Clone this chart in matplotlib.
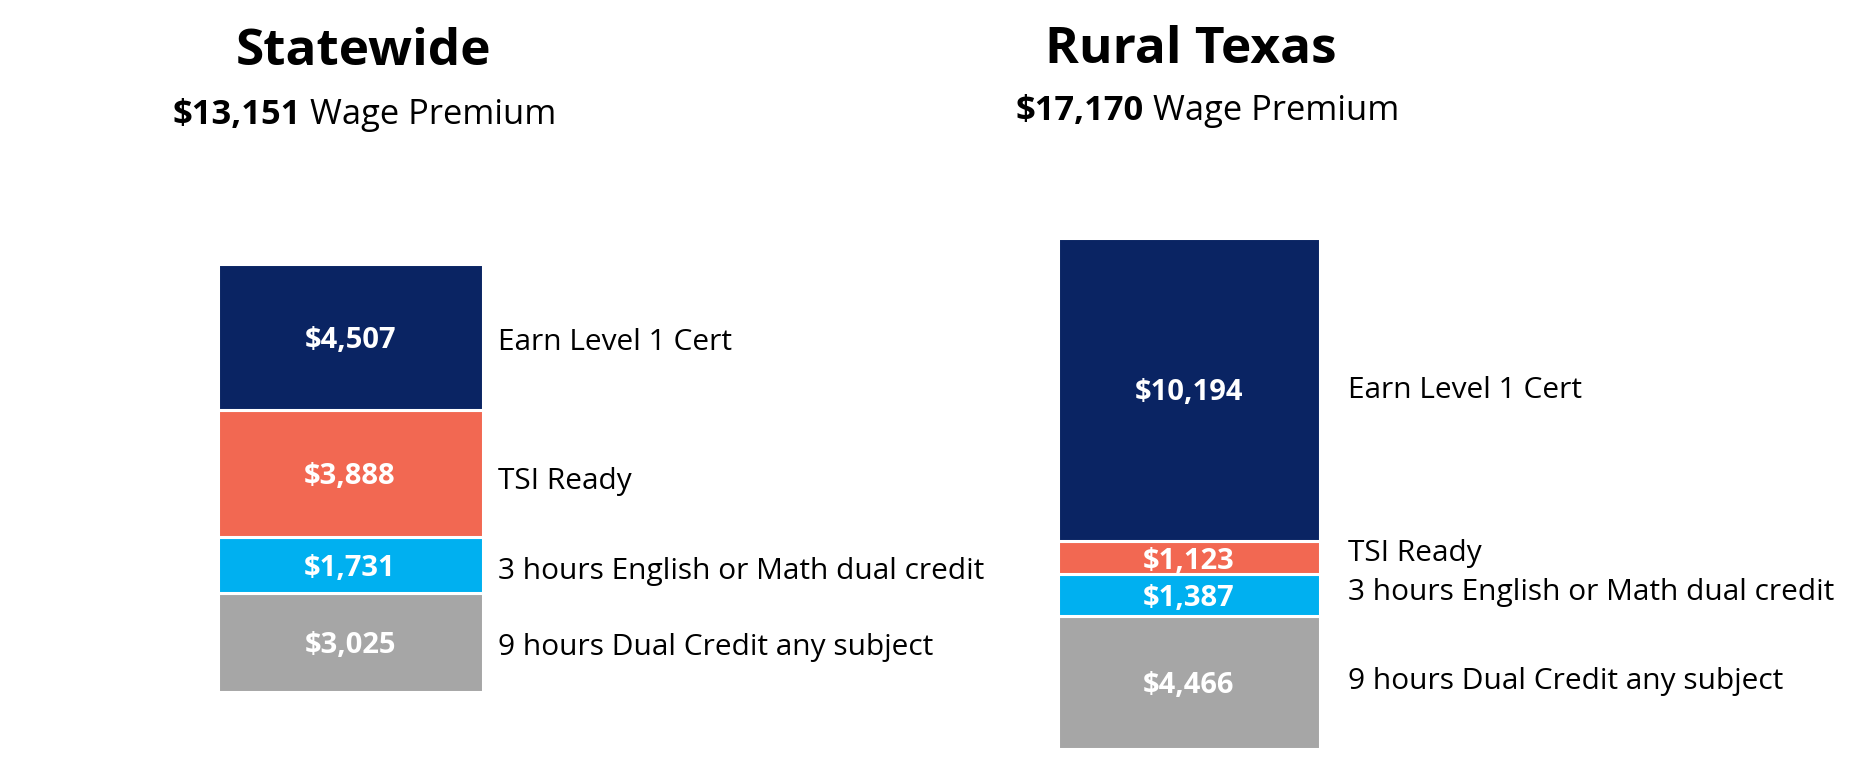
import matplotlib
matplotlib.use("Agg")
import matplotlib.pyplot as plt

# ---- data ----
categories = ["9 hours Dual Credit any subject",
              "3 hours English or Math dual credit",
              "TSI Ready",
              "Earn Level 1 Cert"]
statewide_values = [3025, 1731, 3888, 4507]
rural_values = [4466, 1387, 1123, 10194]
panel_titles = ["Statewide", "Rural Texas"]
panel_totals = ["$13,151", "$17,170"]
subtitle_suffix = " Wage Premium"
colors = ["#A6A6A6", "#00B0F0", "#F26852", "#0A2463"]

FONT = ["Open Sans", "DejaVu Sans"]
plt.rcParams["font.family"] = FONT

W, H, DPI = 1864, 774, 100
fig = plt.figure(figsize=(W / DPI, H / DPI), dpi=DPI)
fig.patch.set_facecolor("white")

def px_axes(x0, x1, ytop, ybot):
    return fig.add_axes([x0 / W, 1 - ybot / H, (x1 - x0) / W, (ybot - ytop) / H])

# layout: (bar px box, label x offset px, per-label y nudges px (bottom->top), title pos, subtitle pos)
layouts = [
    dict(box=(217.5, 482.5, 263.5, 691.5), lab_dx=15, nudges=[-5.5, -6.5, -8.5, -5.5],
         title=(364, 65), sub=(364.5, 124)),
    dict(box=(1057.5, 1319.5, 237.5, 748.5), lab_dx=29, nudges=[0.5, 2.5, 4.5, -1.5],
         title=(1191, 63), sub=(1207, 120)),
]
VALUE_DY = -3.5  # px

series = [statewide_values, rural_values]

fig.canvas.draw()
renderer = fig.canvas.get_renderer()

for vals, title, total, lay in zip(series, panel_titles, panel_totals, layouts):
    ax = px_axes(*lay["box"])
    ax.set_xlim(0, 1)
    ax.set_ylim(0, sum(vals))
    ax.axis("off")
    bottom = 0
    for v, c, cat, nd in zip(vals, colors, categories, lay["nudges"]):
        ax.bar(0.5, v, width=1.0, bottom=bottom, color=c, edgecolor="white",
               linewidth=2.2)
        mid = bottom + v / 2
        ax.annotate(f"${v:,}", xy=(0.5, mid), xytext=(0, VALUE_DY * 72 / DPI),
                    textcoords="offset points", ha="center", va="center",
                    color="white", fontsize=21, fontweight="bold")
        ax.annotate(cat, xy=(1.0, mid), xycoords=("axes fraction", "data"),
                    xytext=(lay["lab_dx"] * 72 / DPI, nd * 72 / DPI),
                    textcoords="offset points", ha="left", va="center",
                    fontsize=21.5, color="black", annotation_clip=False)
        bottom += v

    tx, ty = lay["title"]
    fig.text(tx / W, 1 - ty / H, title, ha="center", va="baseline",
             fontsize=37, fontweight="bold", color="black")

    # subtitle: bold total + regular suffix, centred together
    sx, sy = lay["sub"]
    t1 = fig.text(0, 1 - sy / H, total, ha="left", va="baseline",
                  fontsize=24.8, fontweight="bold", color="black")
    t2 = fig.text(0, 1 - sy / H, subtitle_suffix, ha="left", va="baseline",
                  fontsize=24.8, color="black")
    w1 = t1.get_window_extent(renderer).width
    w2 = t2.get_window_extent(renderer).width
    start = sx - (w1 + w2) / 2
    t1.set_x(start / W)
    t2.set_x((start + w1) / W)

fig.savefig("out.png", dpi=DPI, facecolor="white")
